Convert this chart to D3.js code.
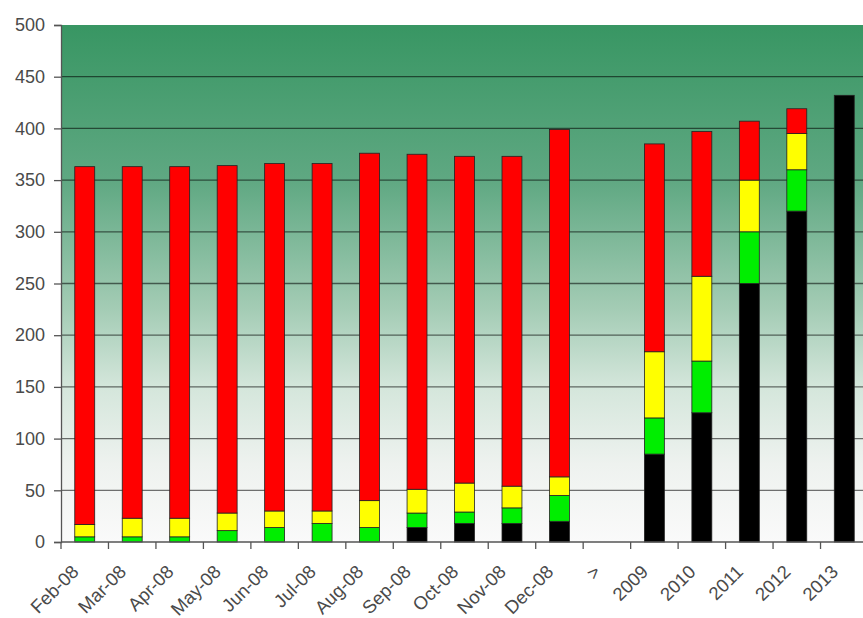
<!DOCTYPE html>
<html>
<head>
<meta charset="utf-8">
<script src="https://cdn.jsdelivr.net/npm/d3@7"></script>
<style>
  body { margin: 0; background: #fff; }
  svg { display: block; font-family: "Liberation Sans", Arial, sans-serif; }
</style>
</head>
<body>
<div id="chart"></div>
<script>
// Data
const categories = ['Feb-08', 'Mar-08', 'Apr-08', 'May-08', 'Jun-08', 'Jul-08', 'Aug-08',
    'Sep-08', 'Oct-08', 'Nov-08', 'Dec-08', '>', '2009', '2010', '2011', '2012', '2013'];
const blackVals  = [0, 0, 0, 0, 0, 0, 0, 14, 18, 18, 20, null, 85, 125, 250, 320, 432];
const greenVals  = [5, 5, 5, 11, 14, 18, 14, 14, 11, 15, 25, null, 35, 50, 50, 40, 0];
const yellowVals = [12, 18, 18, 17, 16, 12, 26, 23, 28, 21, 18, null, 64, 82, 50, 35, 0];
const redVals    = [346, 340, 340, 336, 336, 336, 336, 324, 316, 319, 336, null, 201, 140, 57, 24, 0];
const yTicks = [0, 50, 100, 150, 200, 250, 300, 350, 400, 450, 500];

const seriesKeys = ['black', 'green', 'yellow', 'red'];
const seriesColors = { black: '#000000', green: '#00ee00', yellow: '#ffff00', red: '#ff0000' };

const width = 863, height = 618;
const margin = { left: 61, top: 25, bottom: 76 };
const plotRight = 868;

const svg = d3.select('#chart').append('svg')
    .attr('width', width)
    .attr('height', height);

// Background gradient of the plot area
const defs = svg.append('defs');
const grad = defs.append('linearGradient')
    .attr('id', 'bg')
    .attr('x1', 0).attr('y1', 0).attr('x2', 0).attr('y2', 1);
[[0, '#389663'], [0.3, '#5fa882'], [0.55, '#a4ccb5'], [0.7, '#d4e6db'], [0.85, '#eef2ef'], [1, '#fafafa']]
    .forEach(s => grad.append('stop').attr('offset', s[0]).attr('stop-color', s[1]));

const y = d3.scaleLinear().domain([0, 500]).range([height - margin.bottom, margin.top]);
const x = d3.scaleBand().domain(categories)
    .range([margin.left, plotRight])
    .paddingInner(0.58)
    .paddingOuter(0.29);

svg.append('rect')
    .attr('x', margin.left)
    .attr('y', y(500))
    .attr('width', plotRight - margin.left)
    .attr('height', y(0) - y(500))
    .attr('fill', 'url(#bg)');

// Gridlines
svg.append('g')
    .selectAll('line')
    .data(yTicks.filter(d => d > 0 && d < 500))
    .join('line')
    .attr('x1', margin.left)
    .attr('x2', plotRight)
    .attr('y1', d => y(d))
    .attr('y2', d => y(d))
    .attr('stroke', 'rgba(0,0,0,0.55)')
    .attr('stroke-width', 1.3);

// Stack the series
const rows = categories.map((c, i) => ({
    cat: c,
    black: blackVals[i] || 0,
    green: greenVals[i] || 0,
    yellow: yellowVals[i] || 0,
    red: redVals[i] || 0
}));
const stacked = d3.stack().keys(seriesKeys)(rows);

svg.append('g')
    .selectAll('g')
    .data(stacked)
    .join('g')
    .attr('fill', d => seriesColors[d.key])
    .selectAll('rect')
    .data(d => d.filter(p => p[1] - p[0] > 0))
    .join('rect')
    .attr('x', d => x(d.data.cat))
    .attr('width', x.bandwidth())
    .attr('y', d => y(d[1]))
    .attr('height', d => y(d[0]) - y(d[1]))
    .attr('stroke', '#222')
    .attr('stroke-width', 0.8);

// Y axis
const yAxis = svg.append('g')
    .attr('transform', `translate(${margin.left},0)`)
    .call(d3.axisLeft(y).tickValues(yTicks).tickSize(7).tickPadding(9));
yAxis.select('.domain').attr('stroke', '#555').attr('stroke-width', 1.3);
yAxis.selectAll('.tick line').attr('stroke', '#555').attr('stroke-width', 1.3);
yAxis.selectAll('.tick text')
    .style('font-size', '18px')
    .style('font-family', '"Liberation Sans", Arial, sans-serif')
    .attr('fill', '#4a4a4a');

// X axis: ticks at category boundaries
const step = x.step();
const boundaries = categories.map(c => x(c) - (step - x.bandwidth()) / 2);
boundaries.push(boundaries[boundaries.length - 1] + step);

const xg = svg.append('g');
xg.append('line')
    .attr('x1', margin.left).attr('x2', plotRight)
    .attr('y1', y(0)).attr('y2', y(0))
    .attr('stroke', '#555').attr('stroke-width', 1.3);
xg.selectAll('line.tick')
    .data(boundaries)
    .join('line')
    .attr('class', 'tick')
    .attr('x1', d => d).attr('x2', d => d)
    .attr('y1', y(0)).attr('y2', y(0) + 7)
    .attr('stroke', '#555').attr('stroke-width', 1.3);
xg.selectAll('text')
    .data(categories)
    .join('text')
    .attr('transform', d => `translate(${x(d) + x.bandwidth() / 2 - 5},${y(0) + 31}) rotate(-45)`)
    .attr('text-anchor', 'end')
    .style('font-size', '18.5px')
    .attr('fill', '#4a4a4a')
    .text(d => d);
</script>
</body>
</html>
